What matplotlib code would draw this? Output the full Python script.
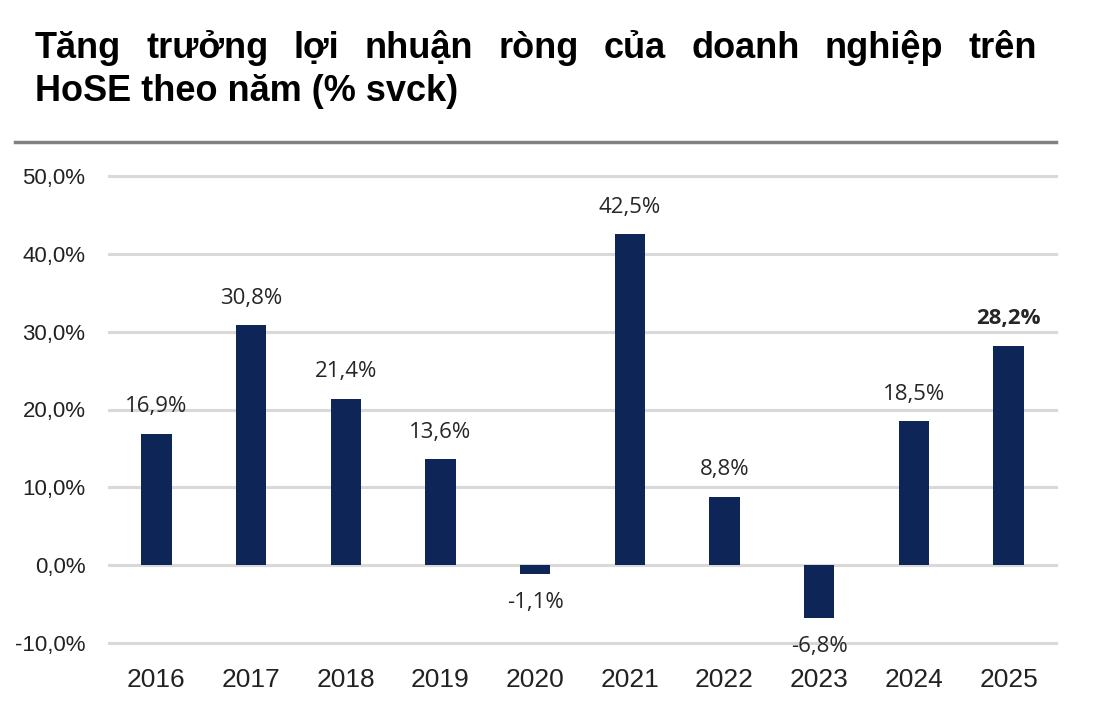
import matplotlib
matplotlib.use("Agg")
import matplotlib.pyplot as plt
from matplotlib.lines import Line2D

years = ["2016", "2017", "2018", "2019", "2020", "2021", "2022", "2023", "2024", "2025"]
growth = [16.9, 30.8, 21.4, 13.6, -1.1, 42.5, 8.8, -6.8, 18.5, 28.2]
yticks = [-10, 0, 10, 20, 30, 40, 50]
title_line1 = "Tăng trưởng lợi nhuận ròng của doanh nghiệp trên"
title_line2 = "HoSE theo năm (% svck)"

BAR_COLOR = "#0e2657"
GRID_COLOR = "#d9d9d9"
TICK_FONT = ["Liberation Sans", "DejaVu Sans"]
LABEL_FONT = ["Open Sans", "DejaVu Sans"]


def vn(v, dec=1):
    return f"{v:.{dec}f}".replace(".", ",") + "%"


fig = plt.figure(figsize=(11.02, 7.16), dpi=100)
W, H = 1102, 716

ax = fig.add_axes([109 / W, 73 / H, (1056 - 109) / W, (643 - 176) / H])
x = range(len(years))
ax.bar(x, growth, width=0.32, color=BAR_COLOR, zorder=3)
ax.set_xlim(-0.5, len(years) - 0.5)
ax.set_ylim(-10, 50)
ax.set_yticks(yticks)
ax.set_yticklabels([vn(t) for t in yticks], family=TICK_FONT, fontsize=16, color="#222222")
ax.set_xticks(list(x))
ax.set_xticklabels(years, family=TICK_FONT, fontsize=19, color="#222222")
ax.tick_params(axis="both", length=0)
ax.tick_params(axis="y", pad=17)
ax.tick_params(axis="x", pad=18)
for s in ax.spines.values():
    s.set_visible(False)
for t in yticks:
    ax.axhline(t, color=GRID_COLOR, lw=2.2, zorder=1, clip_on=False)

for i, v in enumerate(growth):
    last = i == len(growth) - 1
    off = 12 if v >= 0 else -13
    ax.annotate(vn(v), (i, v), xytext=(0, off), textcoords="offset points",
                ha="center", va="bottom" if v >= 0 else "top",
                family=LABEL_FONT, fontsize=16, color="#262626",
                fontweight="bold" if last else "normal")

# separator line under the title
fig.add_artist(Line2D([15 / W, 1056 / W], [1 - 142 / H, 1 - 142 / H],
                      color="#808080", lw=2.5))

# title, first line justified
title_kw = dict(family=["Liberation Sans", "DejaVu Sans"], fontsize=26,
                fontweight="bold", color="black")
x0, x1 = 35, 1037
words = title_line1.split(" ")
fig.canvas.draw()
r = fig.canvas.get_renderer()
texts = [fig.text(0, 1 - 58 / H, w, va="baseline", ha="left", **title_kw) for w in words]
widths = [t.get_window_extent(r).width for t in texts]
gap = ((x1 - x0) - sum(widths)) / (len(words) - 1)
pos = x0
for t, w in zip(texts, widths):
    t.set_x(pos / W)
    pos += w + gap
fig.text(x0 / W, 1 - 101 / H, title_line2, va="baseline", ha="left", **title_kw)

fig.savefig("out.png", dpi=100, facecolor="white")
